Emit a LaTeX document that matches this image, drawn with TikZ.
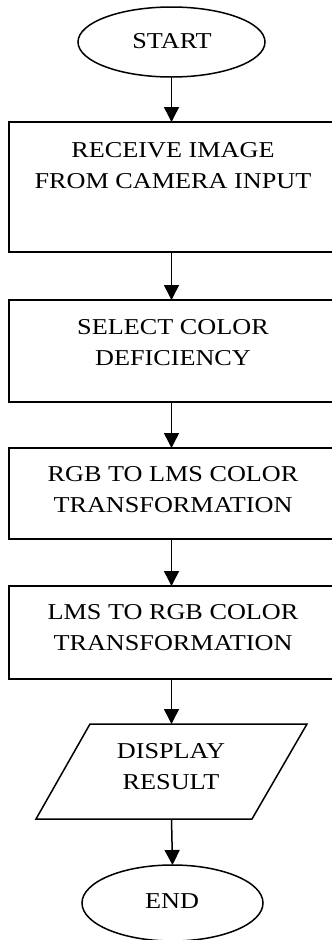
\documentclass[tikz,border=0pt]{standalone}
\usepackage{fontspec}
\setmainfont[FakeStretch=1.155]{Liberation Serif}
\usetikzlibrary{shapes.geometric,arrows.meta}
\begin{document}
\begin{tikzpicture}[x=1pt,y=-1pt,
  every node/.style={inner sep=0pt, outer sep=0pt},
  boxnode/.style={draw, line width=1.5pt, rectangle, minimum width=325pt},
  termnode/.style={draw, ellipse, line width=1.5pt},
  txt/.style={align=center, font=\fontsize{22.7}{31}\selectfont},
  flow/.style={line width=1.5pt, -{Triangle[length=15pt,width=15pt]}}]
\useasboundingbox (0,0) rectangle (332,940);
\clip (0,0) rectangle (332,940);

\node[termnode, minimum width=187pt, minimum height=70pt] (start) at (171.5,42) {};
\node[txt] (tstart) at (172,41) {START};

\node[boxnode, minimum height=130pt] (b1) at (171.5,187) {};
\node[txt] (t1) at (173,166) {RECEIVE IMAGE\\FROM CAMERA INPUT};

\node[boxnode, minimum height=102pt] (b2) at (171.5,351) {};
\node[txt] (t2) at (173,342.5) {SELECT COLOR\\DEFICIENCY};

\node[boxnode, minimum height=91pt] (b3) at (171.5,493.5) {};
\node[txt] (t3) at (173,490) {RGB TO LMS COLOR\\TRANSFORMATION};

\node[boxnode, minimum height=93pt] (b4) at (171.5,632.5) {};
\node[txt] (t4) at (173,628) {LMS TO RGB COLOR\\TRANSFORMATION};

\node[minimum width=162pt, minimum height=95pt] (disp) at (171.5,771.5) {};
\draw[line width=1.5pt, line join=miter] ([xshift=-81.5pt]disp.north) -- ([xshift=135.5pt]disp.north)
  -- ([xshift=80.5pt]disp.south) -- ([xshift=-135.5pt]disp.south) -- cycle;
\node[txt] (t5) at (171,767) {DISPLAY\\RESULT};

\node[termnode, minimum width=181pt, minimum height=76pt] (end) at (172.5,903) {};
\node[txt] (tend) at (172,901) {END};

\draw[flow] (start.south) -- (b1.north);
\draw[flow] (b1.south) -- (b2.north);
\draw[flow] (b2.south) -- (b3.north);
\draw[flow] (b3.south) -- (b4.north);
\draw[flow] (b4.south) -- (disp.north);
\draw[flow] (disp.south) -- (end.north);
\end{tikzpicture}
\end{document}
